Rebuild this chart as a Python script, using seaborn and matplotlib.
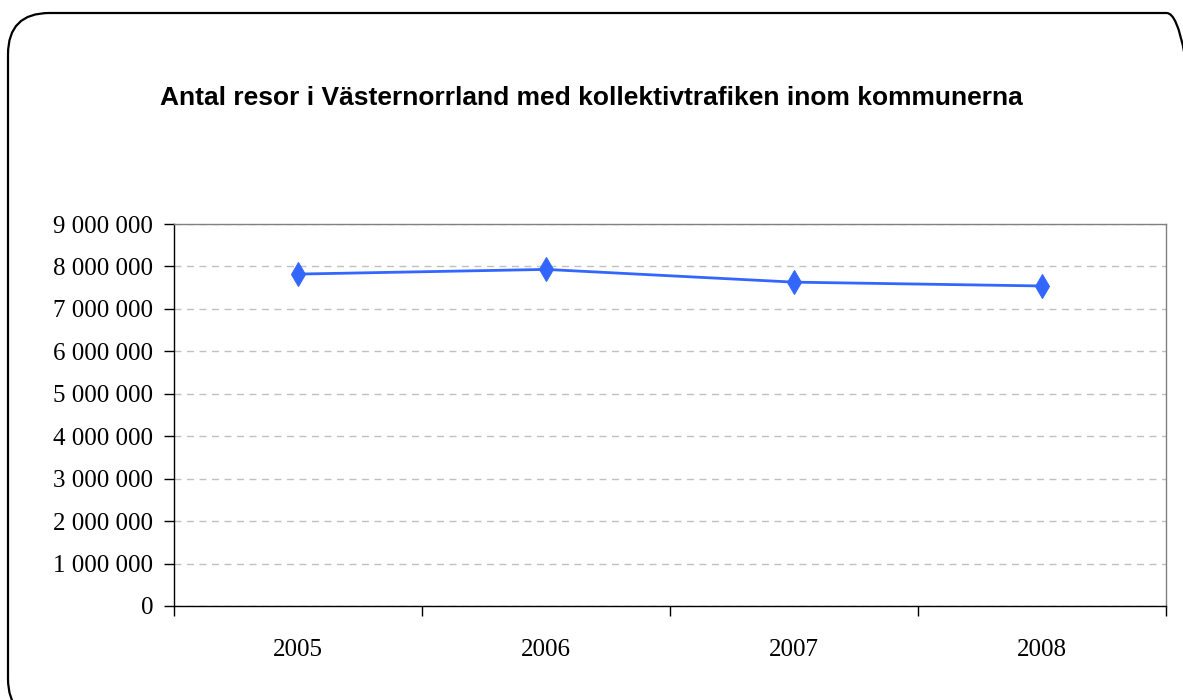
import matplotlib
matplotlib.use("Agg")
import matplotlib.pyplot as plt
import matplotlib.ticker as mticker
from matplotlib.patches import FancyBboxPatch
import pandas as pd
import seaborn as sns

years = ["2005", "2006", "2007", "2008"]
resor = [7820000, 7930000, 7630000, 7540000]
y_ticks = [0, 1000000, 2000000, 3000000, 4000000, 5000000, 6000000, 7000000, 8000000, 9000000]

df = pd.DataFrame({"year": years, "resor": resor})

sns.set_style("white")
plt.rcParams["font.family"] = ["Liberation Serif", "DejaVu Serif"]
plt.rcParams["text.color"] = "black"
plt.rcParams["xtick.color"] = "black"
plt.rcParams["ytick.color"] = "black"

fig = plt.figure(figsize=(11.83, 7.0), dpi=100)

# rounded outer frame, runs off right/bottom edge like the original
frame = FancyBboxPatch((8 / 1183, -20 / 700), 1200 / 1183, 707 / 700,
                       boxstyle="round,pad=0,rounding_size=0.035",
                       transform=fig.transFigure, facecolor="none",
                       edgecolor="black", linewidth=1.6, zorder=0,
                       mutation_aspect=1183 / 700)
fig.patches.append(frame)

ax = fig.add_axes([174 / 1183, 94 / 700, 992 / 1183, 382 / 700])
ax.set_zorder(2)
ax.set_facecolor("none")

sns.lineplot(data=df, x="year", y="resor", ax=ax, color="#3366ff",
             linewidth=2, marker="d", markersize=12, markeredgecolor="#3366ff",
             sort=False)

ax.set_xlim(-0.5, 3.5)
ax.set_ylim(0, 9000000)
ax.set_yticks(y_ticks)
ax.yaxis.set_major_formatter(mticker.FuncFormatter(
    lambda v, p: f"{int(v):,}".replace(",", " ")))
ax.grid(axis="y", color="#c0c0c0", linestyle=(0, (5, 4)), linewidth=1)
ax.set_axisbelow(True)

ax.set_xticks(range(len(years)))
ax.set_xticklabels(years)
ax.set_xticks([-0.5, 0.5, 1.5, 2.5, 3.5], minor=True)
ax.tick_params(axis="x", which="major", length=0, pad=24, labelsize=18)
ax.tick_params(axis="x", which="minor", length=7, width=1, color="black", direction="out", bottom=True)
ax.tick_params(axis="y", length=7, width=1, color="black", direction="out", pad=8, labelsize=18, left=True)

for s in ["top", "right"]:
    ax.spines[s].set_color("#808080")
    ax.spines[s].set_linewidth(1)
for s in ["left", "bottom"]:
    ax.spines[s].set_color("black")
    ax.spines[s].set_linewidth(1)

ax.set_xlabel("")
ax.set_ylabel("")

fig.text(0.5, 1 - 98 / 700, "Antal resor i Västernorrland med kollektivtrafiken inom kommunerna",
         ha="center", va="center", fontsize=19, fontweight="bold", color="black",
         family=["Liberation Sans", "DejaVu Sans"])

fig.savefig("out.png", dpi=100)
